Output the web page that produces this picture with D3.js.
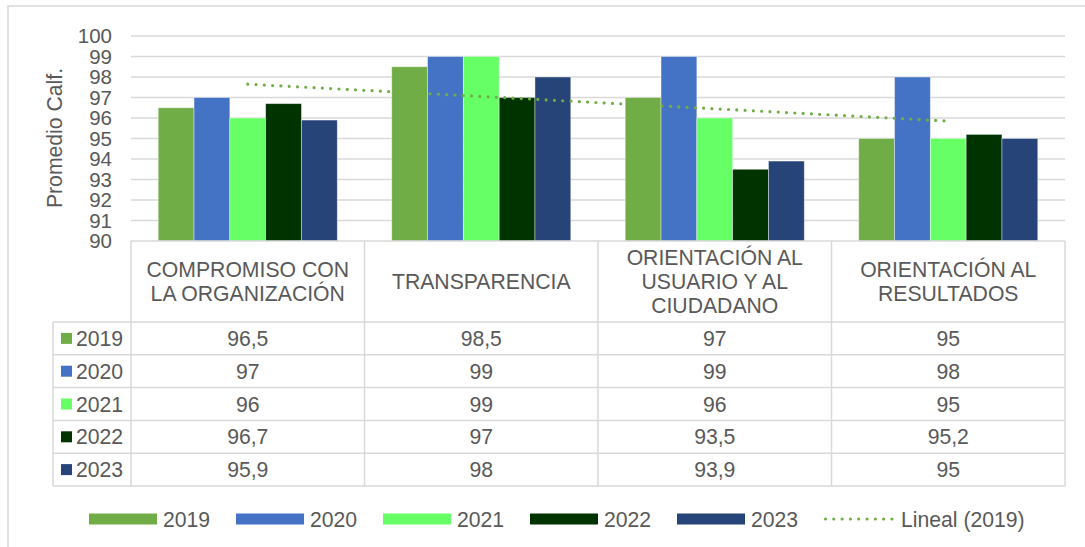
<!DOCTYPE html>
<html>
<head>
<meta charset="utf-8">
<script src="https://cdn.jsdelivr.net/npm/d3@7"></script>
<style>
  html, body { margin: 0; padding: 0; background: #fff; }
  svg { display: block; font-family: Arial, "Liberation Sans", sans-serif; }
</style>
</head>
<body>
<svg id="chart" width="1085" height="547"></svg>
<script>
// data
const categories = [
  ["COMPROMISO CON", "LA ORGANIZACIÓN"],
  ["TRANSPARENCIA"],
  ["ORIENTACIÓN AL", "USUARIO Y AL", "CIUDADANO"],
  ["ORIENTACIÓN AL", "RESULTADOS"]
];
const years = ["2019", "2020", "2021", "2022", "2023"];
const values2019 = [96.5, 98.5, 97, 95];
const values2020 = [97, 99, 99, 98];
const values2021 = [96, 99, 96, 95];
const values2022 = [96.7, 97, 93.5, 95.2];
const values2023 = [95.9, 98, 93.9, 95];
const yTicks = [90, 91, 92, 93, 94, 95, 96, 97, 98, 99, 100];
const colors = ["#70AD47", "#4472C4", "#66FF66", "#003300", "#264478"];

const series = [values2019, values2020, values2021, values2022, values2023];
const textColor = "#595959";
const gridColor = "#d9d9d9";
const fontSize = "21.2px";

const svg = d3.select("#chart");

// chart border (top and left visible)
svg.append("path")
  .attr("d", "M8,547 L8,6 L1085,6")
  .attr("fill", "none")
  .attr("stroke", gridColor)
  .attr("stroke-width", 1.5);

const plotLeft = 131, plotRight = 1065, plotTop = 36, plotBottom = 241;

const x0 = d3.scaleBand()
  .domain(d3.range(categories.length))
  .range([plotLeft, plotRight]);

const x1 = d3.scaleBand()
  .domain(years)
  .range([0, x0.bandwidth()])
  .paddingOuter(0.76);

const y = d3.scaleLinear()
  .domain([90, 100])
  .range([plotBottom, plotTop]);

// gridlines
svg.append("g")
  .selectAll("line")
  .data(yTicks.slice(1))
  .enter()
  .append("line")
  .attr("x1", plotLeft)
  .attr("x2", plotRight)
  .attr("y1", d => y(d))
  .attr("y2", d => y(d))
  .attr("stroke", gridColor)
  .attr("stroke-width", 1.3);

// y axis labels
const yAxis = svg.append("g")
  .attr("transform", "translate(" + (plotLeft - 19) + ",0)")
  .call(d3.axisLeft(y).tickValues(yTicks).tickSize(0).tickPadding(0));
yAxis.select(".domain").remove();
yAxis.selectAll("text")
  .attr("fill", textColor)
  .attr("dy", "0.34em")
  .style("font-size", "20.5px")
  .style("font-family", "Arial, 'Liberation Sans', sans-serif");

svg.append("text")
  .attr("transform", "translate(62,138) rotate(-90)")
  .attr("text-anchor", "middle")
  .attr("fill", textColor)
  .style("font-size", fontSize)
  .text("Promedio Calf.");

// bars
const groups = svg.append("g")
  .selectAll("g")
  .data(categories.map((c, i) => i))
  .enter()
  .append("g")
  .attr("transform", i => "translate(" + x0(i) + ",0)");

groups.selectAll("rect")
  .data(i => years.map((yr, s) => ({ yr: yr, s: s, v: series[s][i] })))
  .enter()
  .append("rect")
  .attr("x", d => x1(d.yr))
  .attr("y", d => y(d.v))
  .attr("width", x1.bandwidth())
  .attr("height", d => y(90) - y(d.v))
  .attr("fill", d => colors[d.s])
  .attr("stroke", "#ffffff")
  .attr("stroke-opacity", 0.5)
  .attr("stroke-width", 0.8);

// linear trendline for 2019
const xs = values2019.map((v, i) => i + 1);
const mx = d3.mean(xs), my = d3.mean(values2019);
const slope = d3.sum(xs, (xv, i) => (xv - mx) * (values2019[i] - my)) / d3.sum(xs, xv => (xv - mx) * (xv - mx));
const trend = xs.map(xv => [x0(xv - 1) + x0.bandwidth() / 2, y(my + slope * (xv - mx))]);
svg.append("path")
  .attr("d", d3.line()([trend[0], trend[trend.length - 1]]))
  .attr("fill", "none")
  .attr("stroke", colors[0])
  .attr("stroke-width", 3.2)
  .attr("stroke-linecap", "round")
  .attr("stroke-dasharray", "0 8.3");

// data table
const rowTop = 322, rowH = 32.8, tableLeft = 53;
const tbl = svg.append("g");
const lineAttrs = sel => sel.attr("stroke", gridColor).attr("stroke-width", 1.5);

tbl.append("line").attr("x1", plotLeft).attr("x2", plotRight).attr("y1", plotBottom).attr("y2", plotBottom).call(lineAttrs);
d3.range(years.length + 1).forEach(r => {
  tbl.append("line")
    .attr("x1", tableLeft).attr("x2", plotRight)
    .attr("y1", rowTop + r * rowH).attr("y2", rowTop + r * rowH)
    .call(lineAttrs);
});
tbl.append("line").attr("x1", tableLeft).attr("x2", tableLeft)
  .attr("y1", rowTop).attr("y2", rowTop + years.length * rowH).call(lineAttrs);
d3.range(categories.length + 1).forEach(c => {
  const xv = c < categories.length ? x0(c) : plotRight;
  tbl.append("line").attr("x1", xv).attr("x2", xv)
    .attr("y1", plotBottom).attr("y2", rowTop + years.length * rowH).call(lineAttrs);
});

// header labels
categories.forEach((lines, i) => {
  const cy = (plotBottom + rowTop) / 2;
  const lh = 24;
  const t = tbl.append("text")
    .attr("text-anchor", "middle")
    .attr("fill", textColor)
    .style("font-size", fontSize);
  lines.forEach((ln, k) => {
    t.append("tspan")
      .attr("x", x0(i) + x0.bandwidth() / 2)
      .attr("y", cy + (k - (lines.length - 1) / 2) * lh + 7.5)
      .text(ln);
  });
});

// rows
years.forEach((yr, s) => {
  const cy = rowTop + s * rowH + rowH / 2;
  tbl.append("rect")
    .attr("x", 61).attr("y", cy - 5.5)
    .attr("width", 11).attr("height", 11)
    .attr("fill", colors[s]);
  tbl.append("text")
    .attr("x", 76).attr("y", cy + 7.5)
    .attr("fill", textColor)
    .style("font-size", fontSize)
    .text(yr);
  series[s].forEach((v, i) => {
    tbl.append("text")
      .attr("x", x0(i) + x0.bandwidth() / 2)
      .attr("y", cy + 7.5)
      .attr("text-anchor", "middle")
      .attr("fill", textColor)
      .style("font-size", fontSize)
      .text(String(v).replace(".", ","));
  });
});

// legend
const legendItems = years.map((yr, s) => ({ label: yr, color: colors[s], trend: false }))
  .concat([{ label: "Lineal (2019)", color: colors[0], trend: true }]);
const legend = svg.append("g").attr("transform", "translate(89,519)");
legendItems.forEach((d, i) => {
  const g = legend.append("g").attr("transform", "translate(" + (i * 147) + ",0)");
  if (d.trend) {
    g.append("line")
      .attr("x1", 1.5).attr("x2", 68)
      .attr("y1", 0).attr("y2", 0)
      .attr("stroke", d.color)
      .attr("stroke-width", 3.2)
      .attr("stroke-linecap", "round")
      .attr("stroke-dasharray", "0 8.3");
  } else {
    g.append("rect")
      .attr("x", 0).attr("y", -5.5)
      .attr("width", 68).attr("height", 11)
      .attr("fill", d.color);
  }
  g.append("text")
    .attr("x", d.trend ? 77 : 74)
    .attr("y", 7.5)
    .attr("fill", textColor)
    .style("font-size", fontSize)
    .text(d.label);
});
</script>
</body>
</html>
